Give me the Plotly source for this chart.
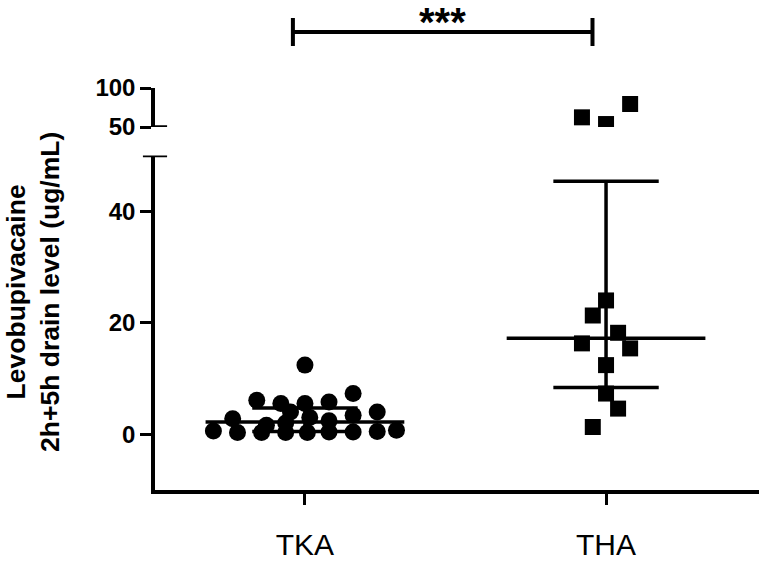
import plotly.graph_objects as go

# ---------------- data ----------------
groups = ["TKA", "THA"]

# TKA values (ug/mL) and horizontal slot of each dot (scatter column index)
tka_values = [12.4,
              6.1, 5.5, 5.5, 5.8, 7.3,
              2.8, 4.0, 3.0, 3.4, 4.0, 1.6, 2.0, 2.4,
              0.6, 0.3, 0.3, 0.3, 0.3, 0.4, 0.4, 0.5, 0.7]
tka_slots = [0,
             -2, -1, 0, 1, 2,
             -3, -0.6, 0.2, 2, 3, -1.6, -0.8, 1,
             -3.8, -2.8, -1.8, -0.8, 0.1, 1, 2, 3, 3.8]

# THA values below the axis break and above it
tha_values_low = [24.0, 21.3, 18.2, 16.3, 15.4, 12.4, 7.3, 4.6, 1.3]
tha_slots_low = [0, -0.55, 0.5, -1, 1, 0, 0, 0.5, -0.55]
tha_values_high = [62.4, 53.8, 79.5]
tha_slots_high = [-1, 0, 1]

# median and interquartile range per group
medians = [2.2, 17.2]
q1 = [0.5, 8.4]
q3 = [4.7, 45.4]

lower_ticks = [0, 20, 40]
upper_ticks = [50, 100]
significance = "***"
y_title = "Levobupivacaine<br>2h+5h drain level (ug/mL)"

# ---------------- layout constants ----------------
W, H = 759, 566
SLOT = 0.08          # category units per jitter slot
MED_HALF = 0.33
CAP_HALF = 0.175
LW = 3.5
FONT = "Liberation Sans"


def py(px):
    """pixel row -> paper fraction"""
    return (H - px) / H


fig = go.Figure()

# TKA dots
fig.add_trace(go.Scatter(
    x=[0 + s * SLOT for s in tka_slots], y=tka_values, mode="markers",
    marker=dict(symbol="circle", size=17, color="black"),
    xaxis="x", yaxis="y", showlegend=False, hoverinfo="y"))

# THA squares, lower segment
fig.add_trace(go.Scatter(
    x=[1 + s * SLOT for s in tha_slots_low],
    y=tha_values_low, mode="markers",
    marker=dict(symbol="square", size=16, color="black"),
    xaxis="x", yaxis="y", showlegend=False, hoverinfo="y"))

# THA squares, upper segment
fig.add_trace(go.Scatter(
    x=[1 + s * SLOT for s in tha_slots_high], y=tha_values_high, mode="markers",
    marker=dict(symbol="square", size=16, color="black"),
    xaxis="x", yaxis="y2", showlegend=False, hoverinfo="y"))

# median + IQR lines
lx, ly = [], []
for i, (m, a, b) in enumerate(zip(medians, q1, q3)):
    lx += [i - MED_HALF, i + MED_HALF, None]
    ly += [m, m, None]
    lx += [i - CAP_HALF, i + CAP_HALF, None, i - CAP_HALF, i + CAP_HALF, None]
    ly += [a, a, None, b, b, None]
    lx += [i, i, None]
    ly += [a, b, None]
fig.add_trace(go.Scatter(x=lx, y=ly, mode="lines",
                         line=dict(color="black", width=LW),
                         xaxis="x", yaxis="y", showlegend=False, hoverinfo="skip"))

# axis-break decorations
shapes = [
    dict(type="line", xref="x domain", yref="y", x0=-0.02, x1=0.02, y0=50, y1=50,
         line=dict(color="black", width=LW)),
    dict(type="line", xref="x domain", yref="y2", x0=0, x1=0.02, y0=50, y1=50,
         line=dict(color="black", width=LW)),
]
# significance bracket
bx0, bx1 = 0 - 0.04, 1 - 0.045
by, bt, bb = py(32), py(18), py(46)
shapes += [
    dict(type="line", xref="x", yref="paper", x0=bx0, x1=bx1, y0=by, y1=by,
         line=dict(color="black", width=4)),
    dict(type="line", xref="x", yref="paper", x0=bx0, x1=bx0, y0=bt, y1=bb,
         line=dict(color="black", width=4)),
    dict(type="line", xref="x", yref="paper", x0=bx1, x1=bx1, y0=bt, y1=bb,
         line=dict(color="black", width=4)),
]

annotations = [
    dict(text=significance, xref="x", yref="paper", x=(bx0 + bx1) / 2, y=py(22),
         showarrow=False, font=dict(family=FONT, size=40, color="black", weight="bold"),
         xanchor="center", yanchor="middle"),
    dict(text=y_title, xref="paper", yref="paper", x=33 / W, y=py(292),
         textangle=-90, showarrow=False, xanchor="center", yanchor="middle",
         font=dict(family=FONT, size=26.5, color="black", weight="bold")),
]

axis_common = dict(showline=True, linewidth=LW, linecolor="black", ticks="outside",
                   ticklen=11, tickwidth=3, tickcolor="black", showgrid=False,
                   zeroline=False, automargin=False)

fig.update_layout(
    width=W, height=H, margin=dict(l=0, r=0, t=0, b=0),
    paper_bgcolor="white", plot_bgcolor="white",
    xaxis=dict(domain=[155 / W, 1], range=[-0.498, 1.508], tickvals=[0, 1],
               ticktext=groups, tickfont=dict(family=FONT, size=30, color="black"),
               ticklabelstandoff=14, **axis_common),
    yaxis=dict(domain=[py(490), py(155.5)], range=[-10, 50], tickvals=lower_ticks,
               tickfont=dict(family=FONT, size=24, color="black", weight="bold"),
               anchor="x", **axis_common),
    yaxis2=dict(domain=[py(127), py(88)], range=[50, 100], tickvals=upper_ticks,
                tickfont=dict(family=FONT, size=24, color="black", weight="bold"),
                anchor="x", **axis_common),
    shapes=shapes, annotations=annotations, showlegend=False,
)

fig.write_html("out.html")
